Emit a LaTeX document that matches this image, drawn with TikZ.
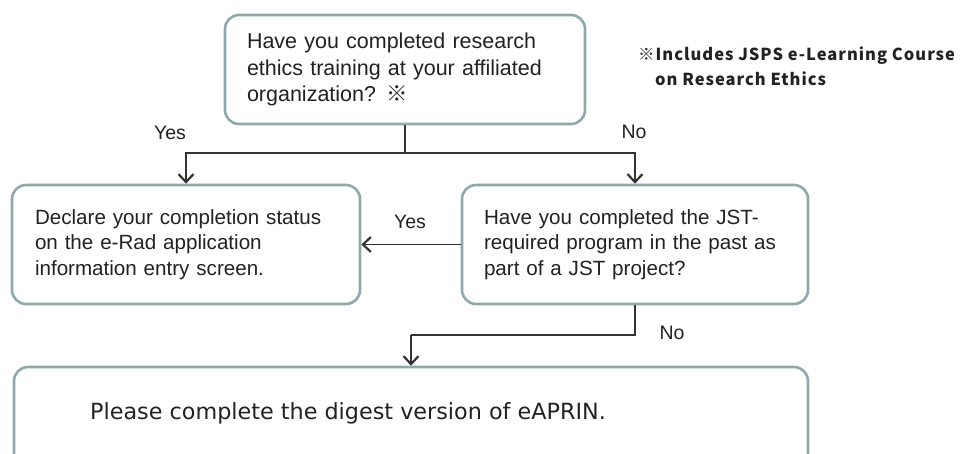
\documentclass[tikz,border=0pt]{standalone}
\usepackage{fontspec}
\setmainfont{Liberation Sans}
\newfontfamily\notefont[LetterSpace=6]{Noto Sans CJK JP}
\newfontfamily\refmark{Noto Sans CJK JP}
\newfontfamily\tahomafont{DejaVu Sans}
\usetikzlibrary{arrows.meta}
\definecolor{boxline}{HTML}{8FA9AB}
\definecolor{txt}{HTML}{222222}
\definecolor{conn}{HTML}{333333}
\tikzset{
  box/.style={draw=boxline, line width=2.6pt, rounded corners=14pt, fill=white,
    text=txt, align=left, inner xsep=0pt, inner ysep=0pt,
    font=\fontsize{20.6}{25.3}\selectfont},
  conn/.style={draw=conn, line width=1.8pt},
  arr/.style={conn, -{Straight Barb[length=8pt, width=15pt, line width=2.2pt]}},
  lab/.style={text=txt, font=\fontsize{19.5}{23}\selectfont, inner sep=0pt},
  notestyle/.style={text=txt, font=\notefont\bfseries\fontsize{16.5}{25}\selectfont, anchor=base west, inner sep=0pt}
}
\begin{document}
\begin{tikzpicture}[x=1pt, y=-1pt]
\clip (0,0) rectangle (960,454);
\fill[white] (0,0) rectangle (960,454);

% boxes
\node[box, minimum width=360pt, minimum height=109pt, text width=316pt,
  font=\fontsize{21.5}{26.5}\selectfont] (top) at (405,69.5)
  {Have you completed research\\ethics training at your affiliated\\organization? {\refmark ※}};
\node[box, minimum width=348pt, minimum height=119pt, text width=302pt] (decl) at (186,244.5)
  {Declare your completion status\\on the e-Rad application\\information entry screen.};
\node[box, minimum width=346pt, minimum height=119pt, text width=302pt] (jst) at (635,244.5)
  {Have you completed the JST-\\required program in the past as\\part of a JST project?};
\node[box, minimum width=794pt, minimum height=110pt] (final) at (411,422) {};
\node[text=txt, font=\tahomafont\fontsize{22.3}{26}\selectfont, anchor=base west, inner sep=0pt] (finaltext) at (90,419)
  {Please complete the digest version of eAPRIN.};

% note
\node[notestyle] (note1) at (638,61) {※Includes JSPS e-Learning Course};
\node[notestyle] (note2) at (655,86) {on Research Ethics};

% connectors
\coordinate (j) at (405,153);
\coordinate (k) at (411,335);
\draw[conn] (top.south) -- (j);
\draw[arr] (j) -| (decl.north);
\draw[arr] (j) -| (jst.north);
\draw[arr] (jst.west) -- (decl.east);
\draw[conn] (jst.south) |- (k);
\draw[arr] (k) -- (final.north);

% labels
\node[lab] (yes1) at (170,133) {Yes};
\node[lab] (no1) at (634,132) {No};
\node[lab] (yes2) at (410,222) {Yes};
\node[lab] (no2) at (672,333) {No};
\end{tikzpicture}
\end{document}
